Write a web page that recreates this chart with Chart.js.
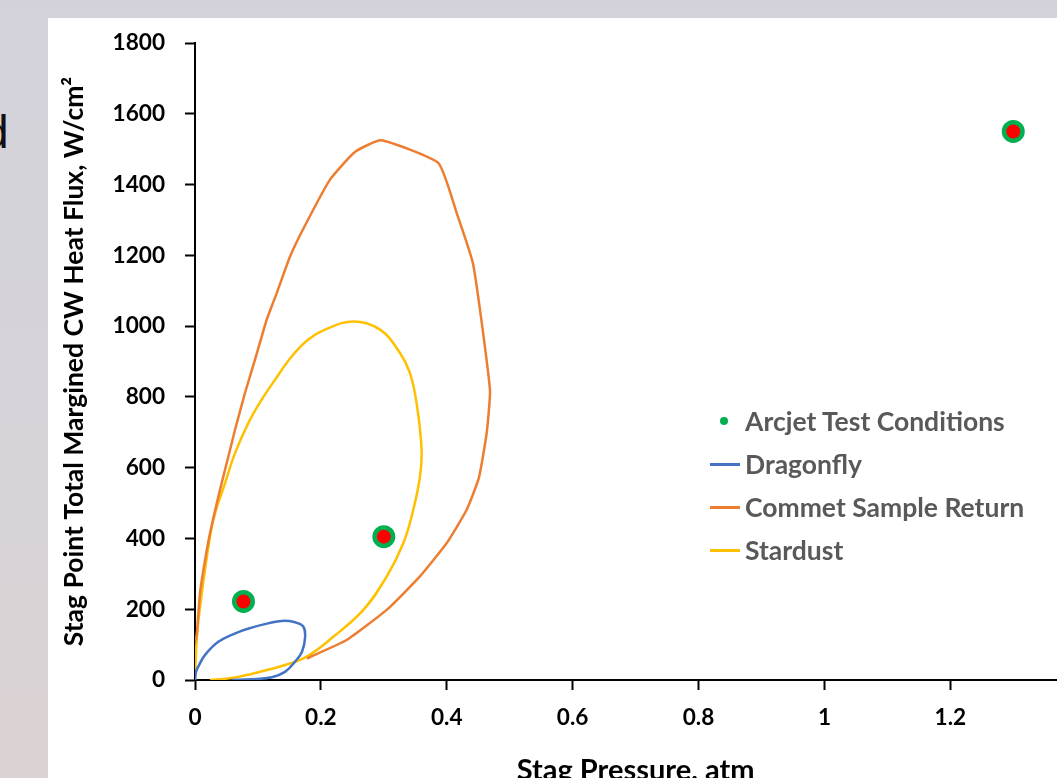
<!DOCTYPE html>
<html>
<head>
<meta charset="utf-8">
<script src="https://cdn.jsdelivr.net/npm/chart.js@4.4.0/dist/chart.umd.min.js"></script>
<style>
  html, body { margin: 0; padding: 0; width: 1057px; height: 778px; overflow: hidden; }
  body { position: relative; background: linear-gradient(180deg, #d3d2da 0%, #d6d3d9 55%, #dbd2d2 100%); font-family: Lato, sans-serif; }
  #panel { position: absolute; left: 48px; top: 18px; right: 0; bottom: 0; background: #fff; }
  #cut { position: absolute; left: -17px; top: 109px; font: 46px "Liberation Sans", Arial, sans-serif; color: #111; line-height: 1; }
  #wrap { position: absolute; left: 0; top: 0; width: 1106px; height: 800px; }
  #legend { position: absolute; left: 705px; top: 0; font: bold 26.5px Lato, sans-serif; color: #595959; }
  .row { position: absolute; left: 0; height: 44px; display: flex; align-items: center; white-space: nowrap; }
  .mark { width: 40px; height: 44px; position: relative; }
  .line { position: absolute; left: 5px; width: 30px; height: 3px; top: 21px; }
  .dot { position: absolute; left: 15px; width: 8px; height: 8px; top: 18px; border-radius: 50%; background: #00b050; }
</style>
</head>
<body>
<div id="panel"></div>
<div id="cut">d</div>
<div id="wrap"><canvas id="chart" width="1106" height="800"></canvas></div>
<div id="legend"></div>
<script>
// Arcjet test points
const arcjetPressure = [0.077, 0.30, 1.30];
const arcjetFlux = [222, 405, 1550];

// Dragonfly envelope
const dragonflyPressure = [0, 0.0016, 0.0052, 0.016, 0.037, 0.064, 0.090, 0.116, 0.138, 0.159, 0.172, 0.175, 0.170, 0.159, 0.143, 0.122, 0.090, 0.058];
const dragonflyFlux = [0, 23, 38, 71, 108, 132, 148, 160, 167, 163, 151, 122, 80, 52, 23, 8, 2, 0];

// Commet Sample Return envelope
const cometPressure = [0.001, 0.003, 0.008, 0.016, 0.0238, 0.037, 0.0504, 0.0636, 0.0794, 0.0953, 0.1139, 0.130, 0.151, 0.177, 0.2145, 0.254, 0.2955, 0.3865, 0.4157, 0.442, 0.4686, 0.4634, 0.451, 0.4316, 0.400, 0.357, 0.3045, 0.241, 0.1775];
const cometFlux = [110, 133, 246, 339, 415, 518, 613, 707, 811, 905, 1018, 1094, 1197, 1292, 1414, 1492, 1525, 1461, 1320, 1174, 820, 698, 571, 481, 387, 292, 198, 113, 61];

// Stardust envelope
const stardustPressure = [0, 0.0027, 0.008, 0.0238, 0.0318, 0.0477, 0.0636, 0.0847, 0.1059, 0.127, 0.1536, 0.180, 0.2065, 0.2515, 0.294, 0.3257, 0.3415, 0.352, 0.360, 0.3574, 0.3468, 0.331, 0.3045, 0.2674, 0.2197, 0.1774, 0.135, 0.082, 0.0556, 0.024];
const stardustFlux = [0, 113, 207, 405, 471, 556, 641, 726, 792, 848, 914, 962, 990, 1013, 990, 924, 867, 783, 650, 575, 481, 387, 292, 198, 122, 66, 38, 14, 5, 0];

const seriesNames = ['Arcjet Test Conditions', 'Dragonfly', 'Commet Sample Return', 'Stardust'];
const seriesColors = ['#00b050', '#4472c4', '#ed7d31', '#ffc000'];

const toPoints = (xs, ys) => xs.map((x, i) => ({x: x, y: ys[i]}));

const lineSet = (name, color, xs, ys, tension) => ({
  label: name,
  data: toPoints(xs, ys),
  showLine: true,
  borderColor: color,
  borderWidth: 2.5,
  pointRadius: 0,
  pointHoverRadius: 0,
  fill: false,
  tension: tension,
  order: 2
});

const tickFont = {family: 'Lato', size: 22.6, weight: 'bold'};

new Chart(document.getElementById('chart'), {
  type: 'scatter',
  data: {
    datasets: [
      {
        label: seriesNames[0],
        data: toPoints(arcjetPressure, arcjetFlux),
        showLine: false,
        pointRadius: 9.25,
        pointHoverRadius: 9.25,
        pointBorderWidth: 4.5,
        pointBackgroundColor: '#ff0000',
        pointBorderColor: seriesColors[0],
        order: 1
      },
      lineSet(seriesNames[1], seriesColors[1], dragonflyPressure, dragonflyFlux, 0.4),
      lineSet(seriesNames[2], seriesColors[2], cometPressure, cometFlux, 0.15),
      lineSet(seriesNames[3], seriesColors[3], stardustPressure, stardustFlux, 0.4)
    ]
  },
  options: {
    responsive: false,
    animation: false,
    devicePixelRatio: 1,
    layout: {padding: {left: 0, top: 43, right: 24, bottom: 0}},
    plugins: {
      legend: {display: false},
      tooltip: {enabled: false}
    },
    scales: {
      x: {
        type: 'linear',
        min: 0,
        max: 1.4,
        ticks: {
          stepSize: 0.2,
          color: '#000',
          font: tickFont,
          padding: 14,
          maxRotation: 0,
          autoSkip: false,
          callback: v => String(Number(v.toFixed(1)))
        },
        grid: {drawOnChartArea: false, drawTicks: true, tickLength: 10, tickColor: '#000', tickWidth: 2},
        border: {color: '#000', width: 2},
        title: {
          display: true,
          text: 'Stag Pressure, atm',
          color: '#000',
          font: {family: 'Lato', size: 29, weight: 'bold'},
          padding: {top: 0, bottom: 12}
        },
        afterFit: s => { s.height = 120; }
      },
      y: {
        type: 'linear',
        min: 0,
        max: 1800,
        ticks: {
          stepSize: 200,
          color: '#000',
          font: tickFont,
          padding: 20,
          callback: v => String(v)
        },
        grid: {drawOnChartArea: false, drawTicks: true, tickLength: 10, tickColor: '#000', tickWidth: 2},
        border: {color: '#000', width: 2},
        title: {
          display: true,
          text: 'Stag Point Total Margined CW Heat Flux, W/cm²',
          color: '#000',
          font: {family: 'Lato', size: 26.5, weight: 'bold'},
          padding: {top: 59, bottom: 0}
        },
        afterFit: s => { s.width = 195; }
      }
    }
  }
});

// legend drawn as html rows
const legend = document.getElementById('legend');
const rowCenters = [420.7, 463.5, 507, 550];
seriesNames.forEach((name, i) => {
  const row = document.createElement('div');
  row.className = 'row';
  row.style.top = (rowCenters[i] - 22) + 'px';
  const mark = document.createElement('div');
  mark.className = 'mark';
  const sym = document.createElement('div');
  sym.className = i === 0 ? 'dot' : 'line';
  sym.style.background = seriesColors[i];
  mark.appendChild(sym);
  const txt = document.createElement('span');
  txt.textContent = name;
  row.appendChild(mark);
  row.appendChild(txt);
  legend.appendChild(row);
});
</script>
</body>
</html>
